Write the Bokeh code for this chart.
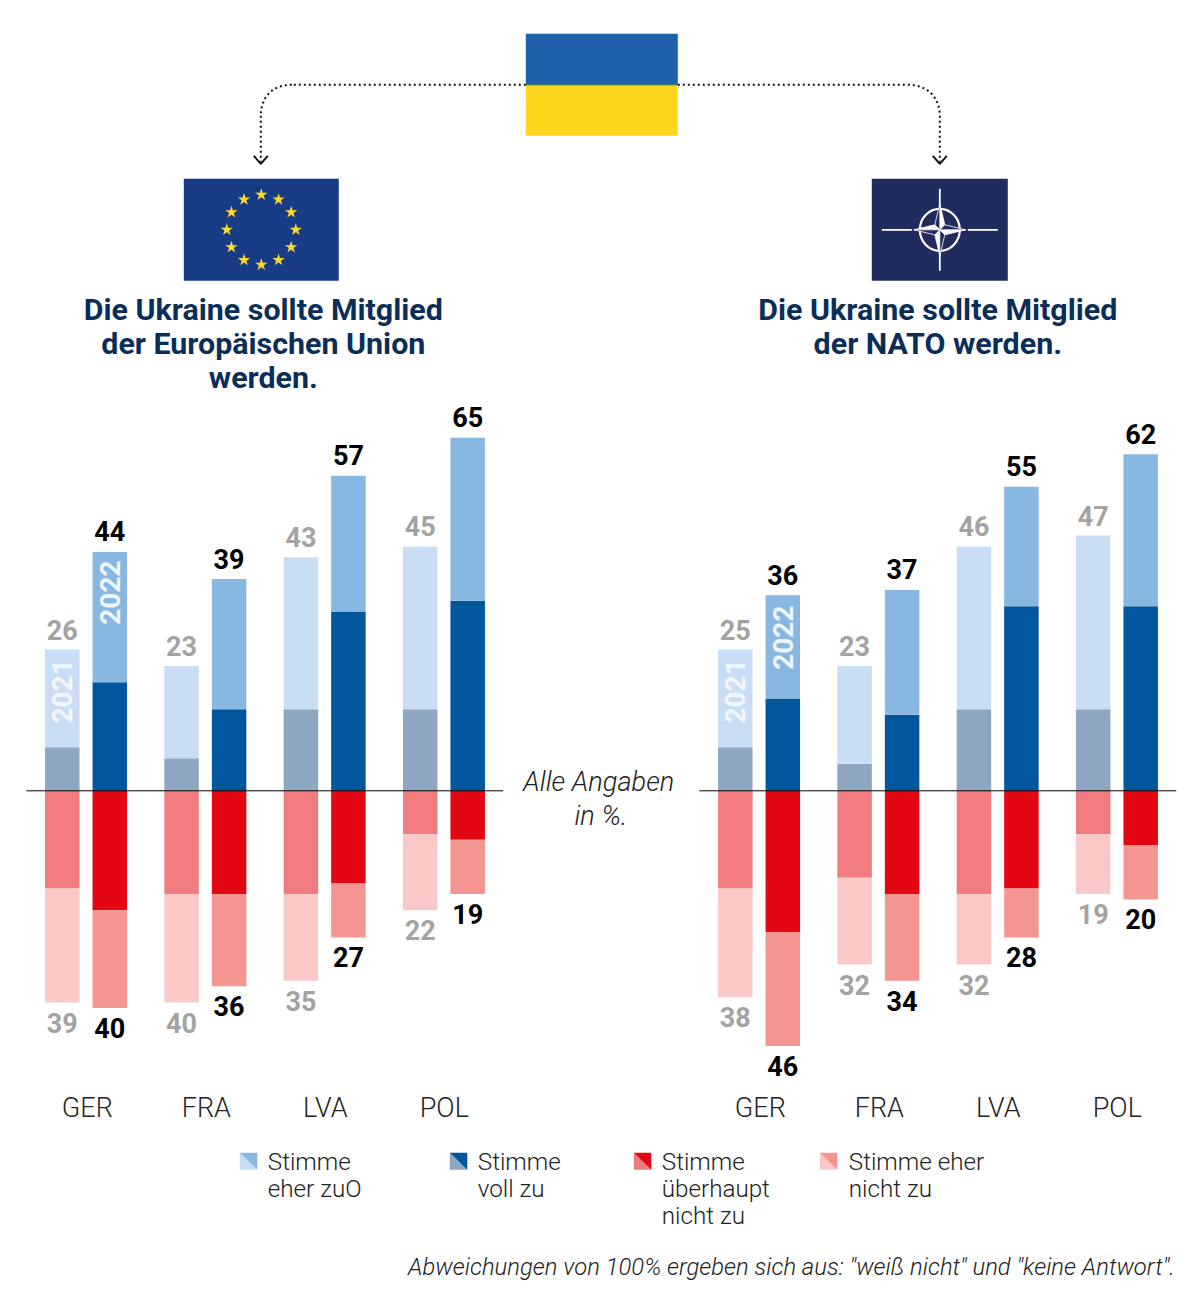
import numpy as np
from bokeh.plotting import figure
from bokeh.models import Range1d
from bokeh.core.properties import value
from bokeh.embed import file_html
from bokeh.resources import INLINE

countries = ["GER", "FRA", "LVA", "POL"]

# left panel: EU membership; [2021, 2022] per country
eu_full_21 = [8, 6, 15, 15]
eu_rather_21 = [18, 17, 28, 30]
eu_none_21 = [18, 19, 19, 8]
eu_ratherno_21 = [21, 20, 16, 14]
eu_full_22 = [20, 15, 33, 35]
eu_rather_22 = [24, 24, 25, 30]
eu_none_22 = [22, 19, 17, 9]
eu_ratherno_22 = [18, 17, 10, 10]
eu_pos_lab_21 = [26, 23, 43, 45]
eu_pos_lab_22 = [44, 39, 57, 65]
eu_neg_lab_21 = [39, 40, 35, 22]
eu_neg_lab_22 = [40, 36, 27, 19]

# right panel: NATO membership
na_full_21 = [8, 5, 15, 15]
na_rather_21 = [18, 18, 30, 32]
na_none_21 = [18, 16, 19, 8]
na_ratherno_21 = [20, 16, 13, 11]
na_full_22 = [17, 14, 34, 34]
na_rather_22 = [19, 23, 22, 28]
na_none_22 = [26, 19, 18, 10]
na_ratherno_22 = [21, 16, 9, 10]
na_pos_lab_21 = [25, 23, 46, 47]
na_pos_lab_22 = [36, 37, 55, 62]
na_neg_lab_21 = [38, 32, 32, 19]
na_neg_lab_22 = [46, 34, 28, 20]

legend_labels = [["Stimme", "eher zuO"], ["Stimme", "voll zu"],
                 ["Stimme", "überhaupt", "nicht zu"], ["Stimme eher", "nicht zu"]]

ROB = "Roboto"
LIGHT = "Roboto Light"
C_L21, C_D21, C_L22, C_D22 = "#c9def5", "#8da7c2", "#88b8e2", "#02569b"
C_R21, C_P21, C_R22, C_P22 = "#f07c80", "#f9c9c8", "#e30613", "#f39590"
NAVY = "#0b2e59"

shift = 0.7
p = figure(width=1184, height=1296, output_backend="svg", toolbar_location=None,
           x_range=Range1d(shift, 1184 + shift), y_range=Range1d(1296 + shift, shift), min_border=0)
p.axis.visible = False
p.grid.visible = False
p.outline_line_color = None
p.background_fill_color = "white"
zero_y = 791.0
unit = 5.43
p.extra_y_ranges = {"pct": Range1d((zero_y - 1296 - shift) / unit, (zero_y - shift) / unit)}


def txt(x, y, s, size, color="#111111", font=ROB, style="normal", align="left", angle=0):
    p.text([x], [y], text=[s], text_font=value(font), text_font_size=f"{size}px",
           text_font_style=style, text_color=color, text_align=align,
           text_baseline="middle", angle=angle)


def panel(x0, full21, rather21, none21, rno21, full22, rather22, none22, rno22,
          pl21, pl22, nl21, nl22, rot21, rot22):
    step = 119.3
    n = len(countries)
    x21 = np.array([x0 + i * step for i in range(n)])
    x22 = x21 + 47.5
    w = 34.5
    for x, full, rather, none, rno, cs in [
        (x21, full21, rather21, none21, rno21, (C_D21, C_L21, C_R21, C_P21)),
        (x22, full22, rather22, none22, rno22, (C_D22, C_L22, C_R22, C_P22)),
    ]:
        full, rather, none, rno = map(np.array, (full, rather, none, rno))
        p.vbar(x=x, width=w, bottom=0, top=full, fill_color=cs[0], line_color=None, y_range_name="pct")
        p.vbar(x=x, width=w, bottom=full, top=full + rather, fill_color=cs[1], line_color=None, y_range_name="pct")
        p.vbar(x=x, width=w, bottom=0, top=-none, fill_color=cs[2], line_color=None, y_range_name="pct")
        p.vbar(x=x, width=w, bottom=-none, top=-(none + rno), fill_color=cs[3], line_color=None, y_range_name="pct")
    tops21 = np.array(full21) + np.array(rather21)
    tops22 = np.array(full22) + np.array(rather22)
    bot21 = -(np.array(none21) + np.array(rno21))
    bot22 = -(np.array(none22) + np.array(rno22))
    for x, y, lab, col, off in [
        (x21, tops21, pl21, "#a3a3a3", -20), (x22, tops22, pl22, "#000000", -20.5),
        (x21, bot21, nl21, "#a3a3a3", 20), (x22, bot22, nl22, "#000000", 20),
    ]:
        p.text(x=x, y=y, text=[str(v) for v in lab], y_range_name="pct", y_offset=off,
               text_align="center", text_baseline="middle", text_font=value(ROB),
               text_font_style="bold", text_font_size="27px", text_color=col)
    p.line([x0 - 36, x0 + 441], [791, 791], line_color="#000000", line_width=1)
    # year tags in the first group
    p.text(x=[x21[0]], y=[rot21], text=["2021"], y_range_name="pct", angle=np.pi / 2,
           text_align="center", text_baseline="middle", text_font=value(ROB), text_font_style="bold",
           text_font_size="28px", text_color="#f2f7fd")
    p.text(x=[x22[0]], y=[rot22], text=["2022"], y_range_name="pct", angle=np.pi / 2,
           text_align="center", text_baseline="middle", text_font=value(ROB), text_font_style="bold",
           text_font_size="28px", text_color="#eef5fb")
    for i, c in enumerate(countries):
        txt(x0 + 25 + i * 119, 1108, c, 27, "#222222", LIGHT, align="center")


panel(62.5, eu_full_21, eu_rather_21, eu_none_21, eu_ratherno_21,
      eu_full_22, eu_rather_22, eu_none_22, eu_ratherno_22,
      eu_pos_lab_21, eu_pos_lab_22, eu_neg_lab_21, eu_neg_lab_22, 18.3, 36.5)
panel(735.5, na_full_21, na_rather_21, na_none_21, na_ratherno_21,
      na_full_22, na_rather_22, na_none_22, na_ratherno_22,
      na_pos_lab_21, na_pos_lab_22, na_neg_lab_21, na_neg_lab_22, 18.3, 28.2)

# Ukraine flag
p.quad(left=[526], right=[678], top=[34], bottom=[85], fill_color="#1e60aa", line_color=None)
p.quad(left=[526], right=[678], top=[85], bottom=[136], fill_color="#ffd61e", line_color=None)
p.line([526, 678], [85, 85], line_color="#1f6a50", line_width=1)

# dotted connectors
dot = dict(line_color="#111111", line_width=2, line_dash="2 3")
p.line([526, 292], [85, 85], **dot)
p.bezier(x0=[292], y0=[85], x1=[261], y1=[116], cx0=[272], cy0=[85], cx1=[261], cy1=[98], **dot)
p.line([261, 261], [116, 162], **dot)
p.line([678, 908], [85, 85], **dot)
p.bezier(x0=[908], y0=[85], x1=[940], y1=[116], cx0=[928], cy0=[85], cx1=[940], cy1=[98], **dot)
p.line([940, 940], [116, 162], **dot)
for ax in (261, 940):
    p.line([ax - 7, ax, ax + 7], [156, 164, 156], line_color="#111111", line_width=2)

# EU flag
p.quad(left=[184], right=[339], top=[179], bottom=[281], fill_color="#183b86", line_color=None)
ang = np.arange(12) * np.pi / 6
p.scatter(261.5 + 34.5 * np.cos(ang), 230 + 35 * np.sin(ang), marker="star", size=13,
          fill_color="#fbd92a", line_color=None)

# NATO flag
cx, cy = 940, 230
p.quad(left=[872], right=[1008], top=[179], bottom=[281], fill_color="#212c5e", line_color=None)
p.segment(x0=[882, 968, cx, cx], y0=[cy, cy, 189, 253], x1=[912, 998, cx, cx], y1=[cy, cy, 207, 271],
          line_color="white", line_width=1.8)
p.ellipse(x=[cx], y=[cy], width=[40], height=[42], fill_color=None, line_color="white", line_width=2.2)
R, r = 26, 5
tips = [(0, -R), (R, 0), (0, R), (-R, 0)]
inner = [(r, -r), (r, r), (-r, r), (-r, -r)]
xs, ys, cols = [], [], []
for k in range(4):
    t = tips[k]
    a = inner[k]
    b = inner[k - 1]
    xs += [[cx, cx + t[0], cx + a[0]], [cx, cx + t[0], cx + b[0]]]
    ys += [[cy, cy + t[1], cy + a[1]], [cy, cy + t[1], cy + b[1]]]
    cols += ["white", "#212c5e"]
p.patches(xs, ys, fill_color=cols, line_color="white", line_width=0.8)

# titles
for i, s in enumerate(["Die Ukraine sollte Mitglied", "der Europäischen Union", "werden."]):
    txt(263.5, 310 + 34 * i, s, 30.4, NAVY, style="bold", align="center")
for i, s in enumerate(["Die Ukraine sollte Mitglied", "der NATO werden."]):
    txt(938, 310 + 34 * i, s, 30.4, NAVY, style="bold", align="center")

txt(599, 782, "Alle Angaben", 27.2, "#222222", LIGHT, style="italic", align="center")
txt(601, 816, "in %.", 27.2, "#222222", LIGHT, style="italic", align="center")

# legend
sw_x = [240, 450, 634, 820]
txt_x = [268, 478, 662, 849]
sw_cols = [(C_L21, C_L22), (C_D21, C_D22), (C_R21, C_R22), (C_P21, C_P22)]
for sx, tx, labs, (lo, hi) in zip(sw_x, txt_x, legend_labels, sw_cols):
    p.patch([sx, sx + 17.5, sx], [1153, 1170, 1170], fill_color=lo, line_color=None)
    p.patch([sx, sx + 17.5, sx + 17.5], [1153, 1153, 1170], fill_color=hi, line_color=None)
    for i, s in enumerate(labs):
        txt(tx, 1162 + 27 * i, s, 24.2, "#222222", LIGHT)

txt(1175, 1267, "Abweichungen von 100% ergeben sich aus: \"weiß nicht\" und \"keine Antwort\".", 23.85,
    "#222222", LIGHT, style="italic", align="right")

open("out.html", "w").write(file_html(p, INLINE))
